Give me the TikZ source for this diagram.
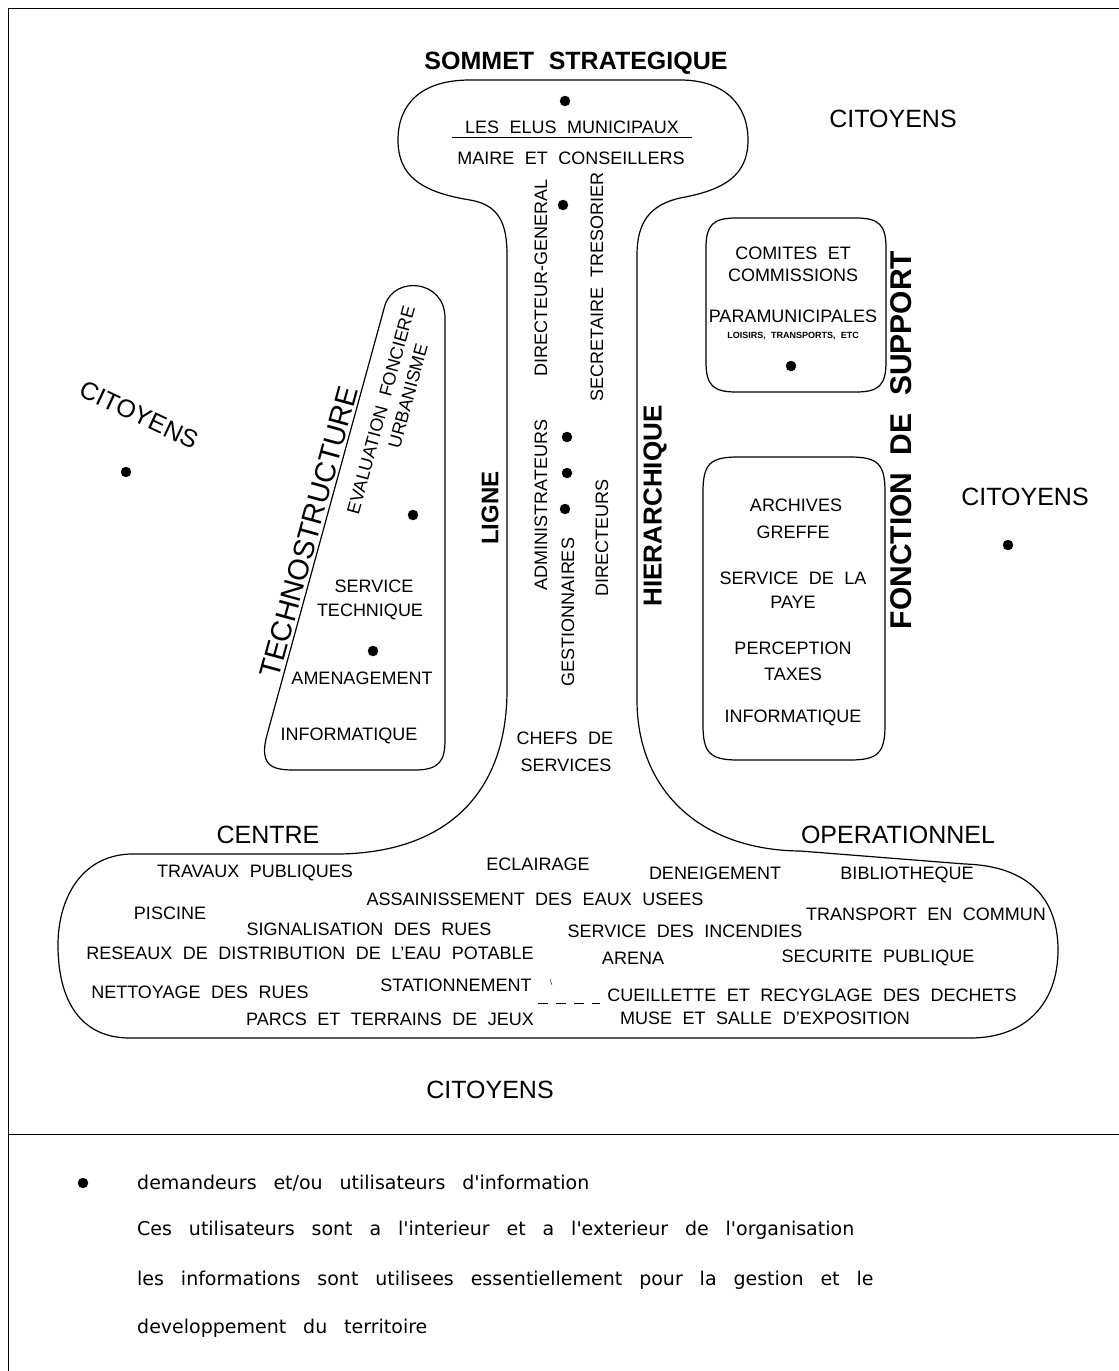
\documentclass[tikz,border=0pt]{standalone}
\usepackage{fontspec}
\setmainfont{Liberation Sans}[WordSpace=2.1]
\newfontfamily\legendfont{DejaVu Sans}[WordSpace=2.8]
\begin{document}
\begin{tikzpicture}[x=1pt,y=-1pt,
    lbl/.style={font=\fontsize{18}{21}\selectfont,inner sep=0pt},
    big/.style={font=\fontsize{25}{30}\selectfont,inner sep=0pt},
    heavy/.style={font=\fontsize{24}{28}\selectfont\bfseries,inner sep=0pt},
    tiny/.style={font=\fontsize{9}{10}\selectfont\bfseries,inner sep=0pt},
    legend/.style={font=\legendfont\fontsize{19}{22}\selectfont,inner sep=0pt,anchor=west},
    outline/.style={line width=1.2pt}]
    \useasboundingbox (0,0) rectangle (1119,1371);

    \draw[line width=1pt] (8,1371) -- (8,8) -- (1119,8);
    \draw[line width=1pt] (8,1134) -- (1119,1134);

    \draw[outline] (575,80) -- (680,80)
        .. controls (725,80) and (748,105) .. (748,140)
        .. controls (748,175) and (725,190) .. (680,198)
        .. controls (650,205) and (637,222) .. (637,255)
        -- (637,700)
        .. controls (637,790) and (700,850) .. (800,851)
        -- (965,864)
        .. controls (1030,866) and (1058,900) .. (1058,950)
        .. controls (1058,1002) and (1027,1038) .. (970,1038)
        -- (130,1038)
        .. controls (80,1038) and (58,1000) .. (58,945)
        .. controls (58,900) and (80,856) .. (130,854)
        -- (340,854)
        .. controls (450,852) and (507,790) .. (507,690)
        -- (507,255)
        .. controls (507,225) and (500,205) .. (470,200)
        .. controls (420,192) and (398,175) .. (398,140)
        .. controls (398,105) and (420,80) .. (470,80)
        -- cycle;

    \draw[outline] (445,740) -- (445,318)
        .. controls (445,280) and (395,275) .. (385,305)
        -- (267,735)
        .. controls (258,768) and (275,770) .. (295,770)
        -- (415,770)
        .. controls (440,770) and (445,760) .. (445,740) -- cycle;

    \draw[outline] (706,248) .. controls (706,225) and (713,218) .. (736,218) -- (856,218)
        .. controls (879,218) and (886,225) .. (886,248) -- (886,362)
        .. controls (886,385) and (879,392) .. (856,392) -- (736,392)
        .. controls (713,392) and (706,385) .. (706,362) -- cycle;
    \draw[outline] (703,492) .. controls (703,464) and (710,457) .. (738,457) -- (850,457)
        .. controls (878,457) and (885,464) .. (885,492) -- (885,725)
        .. controls (885,753) and (878,760) .. (850,760) -- (738,760)
        .. controls (710,760) and (703,753) .. (703,725) -- cycle;

    \node[heavy,font=\fontsize{25}{29}\selectfont\bfseries] (sommet) at (576,63) {SOMMET STRATEGIQUE};
    \node[lbl] (elus) at (572,127) {LES ELUS MUNICIPAUX};
    \draw (452,137) -- (692,137);
    \node[lbl] (maire) at (571,158) {MAIRE ET CONSEILLERS};

    \node[lbl,rotate=90] (dirgen) at (541,278) {DIRECTEUR-GENERAL};
    \node[lbl,rotate=90] (secret) at (597,287) {SECRETAIRE TRESORIER};
    \node[lbl,rotate=90] (admin) at (541,505) {ADMINISTRATEURS};
    \node[lbl,rotate=90] (gestion) at (568,612) {GESTIONNAIRES};
    \node[lbl,rotate=90] (direct) at (602,538) {DIRECTEURS};
    \node[lbl] (chefs) at (565,738) {CHEFS DE};
    \node[lbl] (servs) at (566,765) {SERVICES};

    \node[heavy,rotate=90] (ligne) at (490,508) {LIGNE};
    \node[heavy,rotate=90,font=\fontsize{26}{30}\selectfont\bfseries] (hier) at (655,506) {HIERARCHIQUE};
    \node[heavy,rotate=90,font=\fontsize{30}{34}\selectfont\bfseries] (fonction) at (901,440) {FONCTION DE SUPPORT};

    \node[big,rotate=74.7,font=\fontsize{29}{32}\selectfont] (techno) at (309,532) {TECHNOSTRUCTURE};
    \node[lbl,rotate=74.7] (evalf) at (381,410) {EVALUATION FONCIERE};
    \node[lbl,rotate=74.7] (urba) at (408,396) {URBANISME};
    \node[lbl] (servtech) at (374,586) {SERVICE};
    \node[lbl] (technique) at (370,612) {TECHNIQUE};
    \node[lbl] (amenag) at (362,678) {AMENAGEMENT};
    \node[lbl] (infoa) at (349,736) {INFORMATIQUE};

    \node[lbl] (comites) at (793,253) {COMITES ET};
    \node[lbl] (commis) at (793,275) {COMMISSIONS};
    \node[lbl] (paramun) at (793,316) {PARAMUNICIPALES};
    \node[tiny] (loisirs) at (793,336) {LOISIRS, TRANSPORTS, ETC};
    \node[lbl] (archives) at (796,505) {ARCHIVES};
    \node[lbl] (greffe) at (793,532) {GREFFE};
    \node[lbl] (paye1) at (793,578) {SERVICE DE LA};
    \node[lbl] (paye2) at (793,602) {PAYE};
    \node[lbl] (percep) at (793,648) {PERCEPTION};
    \node[lbl] (taxes) at (793,674) {TAXES};
    \node[lbl] (infob) at (793,718) {INFORMATIQUE};

    \node[big] (citne) at (893,119) {CITOYENS};
    \node[big] (citest) at (1025,497) {CITOYENS};
    \node[big,rotate=-25] (citouest) at (139,415) {CITOYENS};
    \node[big] (citsud) at (490,1090) {CITOYENS};
    \node[big] (centre) at (268,835) {CENTRE};
    \node[big] (operat) at (898,835) {OPERATIONNEL};

    \node[lbl] (travaux) at (255,873) {TRAVAUX PUBLIQUES};
    \node[lbl] (eclair) at (538,864) {ECLAIRAGE};
    \node[lbl] (deneig) at (715,873) {DENEIGEMENT};
    \node[lbl] (biblio) at (907,875) {BIBLIOTHEQUE};
    \node[lbl] (assain) at (535,899) {ASSAINISSEMENT DES EAUX USEES};
    \node[lbl] (piscine) at (170,913) {PISCINE};
    \node[lbl] (signal) at (369,929) {SIGNALISATION DES RUES};
    \node[lbl] (incend) at (685,931) {SERVICE DES INCENDIES};
    \node[lbl] (transp) at (926,914) {TRANSPORT EN COMMUN};
    \node[lbl] (reseaux) at (310,953) {RESEAUX DE DISTRIBUTION DE L'EAU POTABLE};
    \node[lbl] (arena) at (633,958) {ARENA};
    \node[lbl] (secur) at (878,958) {SECURITE PUBLIQUE};
    \node[lbl] (nettoy) at (200,992) {NETTOYAGE DES RUES};
    \node[lbl] (station) at (456,985) {STATIONNEMENT};
    \node[lbl] (cueill) at (812,995) {CUEILLETTE ET RECYGLAGE DES DECHETS};
    \node[lbl] (parcs) at (390,1019) {PARCS ET TERRAINS DE JEUX};
    \node[lbl] (musee) at (765,1018) {MUSE ET SALLE D'EXPOSITION};
    \draw (550,979) -- (552,985);
    \draw[dash pattern=on 10pt off 8pt] (538,1003) -- (600,1003);

    \filldraw (565,101) circle (5pt);
    \filldraw (563,205) circle (5pt);
    \filldraw (567,437) circle (5pt);
    \filldraw (567,473) circle (5pt);
    \filldraw (565,509) circle (5pt);
    \filldraw (413,515) circle (5pt);
    \filldraw (373,651) circle (5pt);
    \filldraw (791,366) circle (5pt);
    \filldraw (126,472) circle (5pt);
    \filldraw (1008,545) circle (5pt);

    \filldraw (83,1183) circle (5pt);
    \node[legend] (leg1) at (137,1183) {demandeurs et/ou utilisateurs d'information};
    \node[legend] (leg2) at (137,1230) {Ces utilisateurs sont a l'interieur et a l'exterieur de l'organisation};
    \node[legend] (leg3) at (137,1280) {les informations sont utilisees essentiellement pour la gestion et le};
    \node[legend] (leg4) at (137,1328) {developpement du territoire};
\end{tikzpicture}
\end{document}
